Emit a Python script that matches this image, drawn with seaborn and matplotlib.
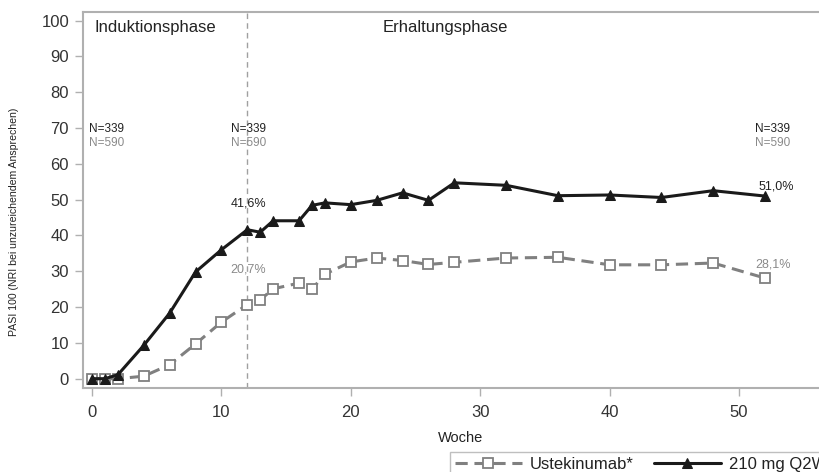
import matplotlib
matplotlib.use("Agg")
import matplotlib.pyplot as plt
import seaborn as sns
import pandas as pd

weeks = [0, 1, 2, 4, 6, 8, 10, 12, 13, 14, 16, 17, 18, 20, 22, 24, 26, 28, 32, 36, 40, 44, 48, 52]
q2w_210 = [0, 0, 1.1, 9.3, 18.3, 29.8, 36.0, 41.6, 40.9, 44.1, 44.1, 48.4, 49.1, 48.6, 49.8, 51.9,
           49.8, 54.7, 54.0, 51.1, 51.3, 50.6, 52.5, 51.0]
ustekinumab = [0, 0, 0, 0.7, 3.9, 9.7, 15.8, 20.7, 22.0, 25.1, 26.7, 25.0, 29.2, 32.6, 33.7, 33.0,
               31.9, 32.5, 33.7, 33.9, 31.8, 31.8, 32.3, 28.1]
series_names = ["Ustekinumab*", "210 mg Q2W*"]
n_labels_top = ["N=339", "N=339", "N=339"]
n_labels_bottom = ["N=590", "N=590", "N=590"]
n_label_weeks = [1.1, 12.1, 52.6]
pct_top = ["41,6%", "51,0%"]
pct_bottom = ["20,7%", "28,1%"]
phase_labels = ["Induktionsphase", "Erhaltungsphase"]

sns.set_style("white")
plt.rcParams['font.family'] = ['Liberation Sans', 'DejaVu Sans']

df = pd.DataFrame({
    "Woche": weeks * 2,
    "val": ustekinumab + q2w_210,
    "Gruppe": [series_names[0]] * len(weeks) + [series_names[1]] * len(weeks),
})

fig = plt.figure(figsize=(8.2, 4.72), dpi=100)
ax = fig.add_axes([83 / 820, 84 / 472, (840 - 83) / 820, 376 / 472])

gray = "#808080"
dark = "#1a1a1a"
sns.lineplot(data=df[df.Gruppe == series_names[0]], x="Woche", y="val", ax=ax,
             color=gray, lw=2.2, marker="s", markersize=6.5, markerfacecolor="white",
             markeredgecolor=gray, markeredgewidth=1.3,
             label=series_names[0])
sns.lineplot(data=df[df.Gruppe == series_names[1]], x="Woche", y="val", ax=ax,
             color=dark, lw=2.2, marker="^", markersize=7, markerfacecolor=dark,
             markeredgecolor=dark, label=series_names[1])
ax.lines[0].set_linestyle((0, (4, 2.2)))

ax.set_xlim(-0.695, 57.8)
ax.set_ylim(-2.6, 102.4)
ax.set_xticks([0, 10, 20, 30, 40, 50])
ax.set_yticks(range(0, 101, 10))

ax.axvline(12, color="#a0a0a0", lw=1, ls=(0, (4, 3)), zorder=0)

spine_c = "#b0b0b0"
for s in ["left", "bottom", "top"]:
    ax.spines[s].set_color(spine_c)
    ax.spines[s].set_linewidth(1.5)
ax.spines["right"].set_visible(False)
ax.tick_params(axis="both", which="major", direction="out", length=6, width=1,
               color=spine_c, labelsize=12, labelcolor="#333333", pad=4,
               left=True, bottom=True)
ax.tick_params(axis="x", pad=6)

ax.set_xlabel("Woche", fontsize=10.5, color="#222222")
ax.set_ylabel("PASI 100 (NRI bei unzureichendem Ansprechen)", fontsize=7.6, color="#222222")
ax.xaxis.set_label_coords(461 / 820, 1 - 438 / 472, transform=fig.transFigure)
ax.yaxis.set_label_coords(14 / 820, 1 - 222 / 472, transform=fig.transFigure)
ax.xaxis.label.set_va("center")
ax.yaxis.label.set_va("center")

ax.text(0.23, 98.2, phase_labels[0], fontsize=12, color="#222222", ha="left", va="center")
ax.text(27.3, 98.2, phase_labels[1], fontsize=12, color="#222222", ha="center", va="center")

for xw, t1, t2 in zip(n_label_weeks, n_labels_top, n_labels_bottom):
    ax.text(xw, 69.7, t1, fontsize=8.5, color="#222222", ha="center", va="center")
    ax.text(xw, 65.8, t2, fontsize=8.5, color="#8a8a8a", ha="center", va="center")

ax.text(12.06, 49.0, pct_top[0], fontsize=9, color="#222222", ha="center", va="center")
ax.text(12.06, 30.4, pct_bottom[0], fontsize=9, color="#8a8a8a", ha="center", va="center")
ax.text(52.9, 53.6, pct_top[1], fontsize=9, color="#222222", ha="center", va="center")
ax.text(52.6, 31.8, pct_bottom[1], fontsize=9, color="#8a8a8a", ha="center", va="center")

leg = ax.legend(loc="upper left", bbox_to_anchor=(450 / 820, (472 - 452) / 472),
                bbox_transform=fig.transFigure, ncol=2, fontsize=12, frameon=True,
                fancybox=False, edgecolor="#b0b0b0", handlelength=4.0, handletextpad=0.5,
                columnspacing=1.2, borderpad=0.3, borderaxespad=0)
leg.get_frame().set_linewidth(1.0)
for t in leg.get_texts():
    t.set_color("#222222")

fig.savefig("out.png", dpi=100)
